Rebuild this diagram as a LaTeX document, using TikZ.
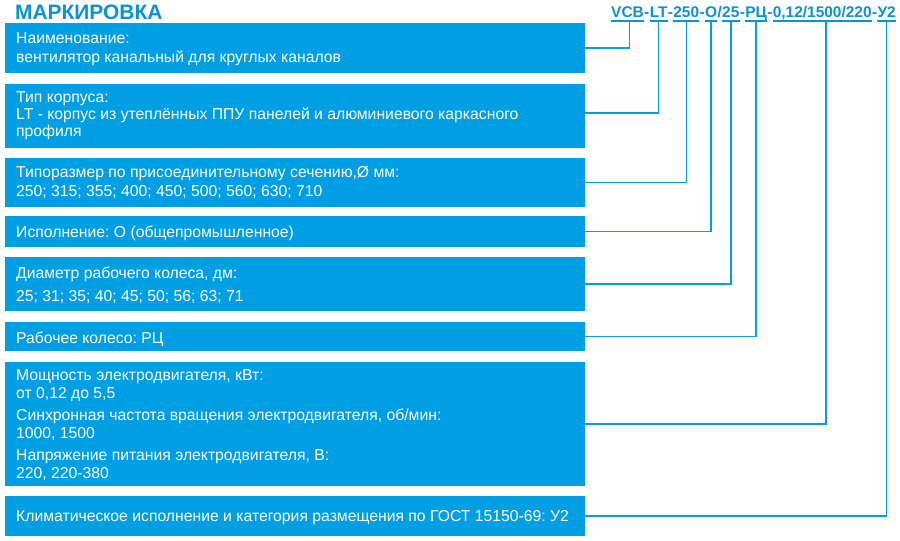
\documentclass[tikz,border=0pt]{standalone}
\usepackage{fontspec}
\setmainfont{Liberation Sans}
\frenchspacing
\definecolor{mblue}{RGB}{0,158,226}
\definecolor{tblue}{RGB}{10,146,212}
\begin{document}
\begin{tikzpicture}[x=1bp,y=-1bp,
  box/.style={fill=mblue, draw=none, minimum width=580bp, inner sep=0pt, anchor=north west},
  txt/.style={text=white, font=\fontsize{15.8}{18}\selectfont, anchor=base west, inner sep=0pt},
  code/.style={text=tblue, font=\fontsize{15.5}{18}\selectfont\bfseries, anchor=base west, inner sep=0pt},
  uline/.style={draw=tblue, line width=1.3bp},
  conn/.style={draw=mblue, line width=1.5bp}]
\useasboundingbox (0,0) rectangle (900,541);
% title
\node[text=tblue, font=\fontsize{21}{23}\selectfont\bfseries, anchor=base west, inner sep=0pt] (title) at (15,20) {МАРКИРОВКА};
% boxes
\node[box, minimum height=50bp] (b1) at (5,23) {};
\node[box, minimum height=64bp] (b2) at (5,84) {};
\node[box, minimum height=49bp] (b3) at (5,158) {};
\node[box, minimum height=31bp] (b4) at (5,216) {};
\node[box, minimum height=54bp] (b5) at (5,257) {};
\node[box, minimum height=29bp] (b6) at (5,322) {};
\node[box, minimum height=124bp] (b7) at (5,362) {};
\node[box, minimum height=40bp] (b8) at (5,496) {};
% texts
\node[txt] (t1a) at (16,44) {Наименование:};
\node[txt] (t1b) at (16,63) {вентилятор канальный для круглых каналов};
\node[txt] (t2a) at (16,103) {Тип корпуса:};
\node[txt] (t2b) at (16,120) {LT - корпус из утеплённых ППУ панелей и алюминиевого каркасного};
\node[txt] (t2c) at (16,137) {профиля};
\node[txt] (t3a) at (16,178) {Типоразмер по присоединительному сечению,Ø мм:};
\node[txt] (t3b) at (16,197) {250; 315; 355; 400; 450; 500; 560; 630; 710};
\node[txt] (t4a) at (16,238) {Исполнение: О (общепромышленное)};
\node[txt] (t5a) at (16,279) {Диаметр рабочего колеса, дм:};
\node[txt] (t5b) at (16,302) {25; 31; 35; 40; 45; 50; 56; 63; 71};
\node[txt] (t6a) at (16,344) {Рабочее колесо: РЦ};
\node[txt] (t7a) at (16,380) {Мощность электродвигателя, кВт:};
\node[txt] (t7b) at (16,398) {от 0,12 до 5,5};
\node[txt] (t7c) at (16,420) {Синхронная частота вращения электродвигателя, об/мин:};
\node[txt] (t7d) at (16,438) {1000, 1500};
\node[txt] (t7e) at (16,460) {Напряжение питания электродвигателя, В:};
\node[txt] (t7f) at (16,478) {220, 220-380};
\node[txt] (t8a) at (16,521) {Климатическое исполнение и категория размещения по ГОСТ 15150-69: У2};
% code
\node[code] (c1) at (611,18) {VCB};
\node[code] (d1) at (c1.base east) {-};
\node[code] (c2) at (d1.base east) {LT};
\node[code] (d2) at (c2.base east) {-};
\node[code] (c3) at (d2.base east) {250};
\node[code] (d3) at (c3.base east) {-};
\node[code] (c4) at (d3.base east) {O};
\node[code] (d4) at (c4.base east) {/};
\node[code] (c5) at (d4.base east) {25};
\node[code] (d5) at (c5.base east) {-};
\node[code] (c6) at (d5.base east) {РЦ};
\node[code] (d6) at (c6.base east) {-};
\node[code] (c7) at (d6.base east) {0,12/1500/220};
\node[code] (d7) at (c7.base east) {-};
\node[code] (c8) at (d7.base east) {У2};
\foreach \c in {c1,c2,c3,c4,c5,c6,c7,c8}{
  \draw[uline] ([yshift=-3bp]\c.base west) -- ([yshift=-3bp]\c.base east);
}
% connectors
\draw[conn] ([xshift=2bp,yshift=-3bp]c1.base) |- (b1.east);
\draw[conn] ([yshift=-3bp]c2.base) |- ([yshift=3bp]b2.east);
\draw[conn] ([yshift=-3bp]c3.base) |- (b3.east);
\draw[conn] ([yshift=-3bp]c4.base) |- (b4.east);
\draw[conn] ([yshift=-3bp]c5.base) |- (b5.east);
\draw[conn] ([yshift=-3bp]c6.base) |- (b6.east);
\draw[conn] ([xshift=4bp,yshift=-3bp]c7.base) |- (b7.east);
\draw[conn] ([yshift=-3bp]c8.base) |- (b8.east);
\end{tikzpicture}
\end{document}
